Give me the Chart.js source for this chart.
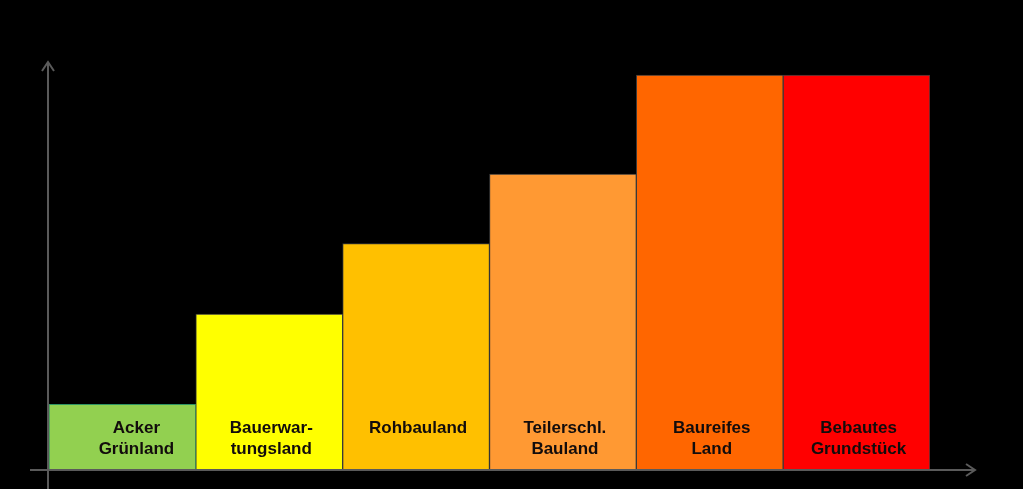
<!DOCTYPE html>
<html>
<head>
<meta charset="utf-8">
<script src="https://cdn.jsdelivr.net/npm/chart.js@4"></script>
<style>
  html, body { margin: 0; padding: 0; background: #000; }
  canvas { display: block; }
</style>
</head>
<body>
<canvas id="chart" width="1023" height="489"></canvas>
<script>
// Kategorien (Beschriftung in den Balken, zweizeilig)
const categories = [
  ['Acker', 'Grünland'],
  ['Bauerwar-', 'tungsland'],
  ['Rohbauland'],
  ['Teilerschl.', 'Bauland'],
  ['Baureifes', 'Land'],
  ['Bebautes', 'Grundstück'],
];

// relative Werte (geschätzt aus der Balkenhöhe)
const values = [16, 38, 55.2, 72.2, 96.3, 96.3];

const barColors = ['#92d050', '#ffff00', '#ffc000', '#ff9933', '#ff6600', '#ff0000'];
const borderColors = ['#2f9463', '#3a3a3a', '#3a3a3a', '#3a3a3a', '#3a3a3a', '#3a3a3a'];

const AXIS_COLOR = '#5a5a5a';

// Achsen mit Pfeilspitzen
const axisArrows = {
  id: 'axisArrows',
  afterDatasetsDraw(chart) {
    const { ctx, chartArea } = chart;
    const x0 = chartArea.left - 1;
    const y0 = chartArea.bottom;
    ctx.save();
    ctx.strokeStyle = AXIS_COLOR;
    ctx.lineWidth = 2;
    // y-Achse
    ctx.beginPath();
    ctx.moveTo(x0, chart.height);
    ctx.lineTo(x0, chartArea.top + 2);
    ctx.moveTo(x0 - 6, chartArea.top + 11);
    ctx.lineTo(x0, chartArea.top + 2);
    ctx.lineTo(x0 + 6, chartArea.top + 11);
    // x-Achse
    const xEnd = chartArea.right + 45;
    ctx.moveTo(chartArea.left - 19, y0);
    ctx.lineTo(xEnd, y0);
    ctx.moveTo(xEnd - 9, y0 - 6);
    ctx.lineTo(xEnd, y0);
    ctx.lineTo(xEnd - 9, y0 + 6);
    ctx.stroke();
    ctx.restore();
  },
};

// Beschriftung in den Balken (erste Beschriftung im Original etwas nach rechts versetzt)
const barLabels = {
  id: 'barLabels',
  afterDatasetsDraw(chart) {
    const { ctx } = chart;
    const meta = chart.getDatasetMeta(0);
    const yBase = chart.scales.y.getPixelForValue(0);
    ctx.save();
    ctx.font = 'bold 17px "Liberation Sans", Arial, sans-serif';
    ctx.fillStyle = '#120c0c';
    ctx.textAlign = 'center';
    ctx.textBaseline = 'middle';
    meta.data.forEach((bar, i) => {
      const dx = i === 0 ? 14 : 2;
      categories[i].forEach((line, j) => {
        ctx.fillText(line, bar.x + dx, yBase - 42 + j * 21);
      });
    });
    ctx.restore();
  },
};

new Chart(document.getElementById('chart').getContext('2d'), {
  type: 'bar',
  data: {
    labels: categories.map((c) => c.join(' ')),
    datasets: [{
      data: values,
      backgroundColor: barColors,
      borderColor: borderColors,
      borderWidth: 1,
      borderSkipped: false,
      categoryPercentage: 1,
      barPercentage: 1,
    }],
  },
  options: {
    responsive: false,
    animation: false,
    layout: { padding: { left: 49, right: 93, top: 60, bottom: 19 } },
    plugins: {
      legend: { display: false },
      tooltip: { enabled: false },
    },
    scales: {
      x: { display: false },
      y: { display: false, min: 0, max: 100 },
    },
  },
  plugins: [axisArrows, barLabels],
});
</script>
</body>
</html>
